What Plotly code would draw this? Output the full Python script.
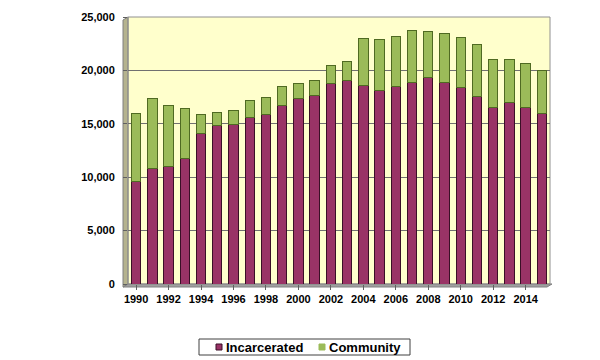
import plotly.graph_objects as go

years = list(range(1990, 2016))
incarcerated = [9600, 10800, 11000, 11750, 14100, 14850, 14950, 15600, 15850, 16750,
                17400, 17650, 18800, 19100, 18550, 18150, 18500, 18850, 19350, 18850,
                18400, 17600, 16550, 16950, 16550, 16000]
total = [16000, 17400, 16700, 16450, 15850, 16100, 16200, 17200, 17500, 18450,
         18800, 19100, 20500, 20850, 22950, 22900, 23200, 23750, 23650, 23450,
         23100, 22450, 21050, 21050, 20650, 19950]
community = [t - i for t, i in zip(total, incarcerated)]
tick_years = list(range(1990, 2016, 2))
series_names = ["Incarcerated", "Community"]
series_colors = ["#993366", "#9BBB59"]

OFF = 8  # page body margin
W, H = 600 - OFF, 360 - OFF
L, R, T, B = 128 - OFF, 50, 17 - OFF, 76
pw, ph = W - L - R, H - T - B

def px(x):
    return (x - OFF - L) / pw

def py(y):
    return (T + ph - (y - OFF)) / ph

fig = go.Figure()
fig.add_trace(go.Bar(x=years, y=incarcerated, name=series_names[0],
                     marker=dict(color=series_colors[0], line=dict(color="#3a0f26", width=1))))
fig.add_trace(go.Bar(x=years, y=community, name=series_names[1],
                     marker=dict(color=series_colors[1], line=dict(color="#4f6a22", width=1))))

shapes = [
    # left wall
    dict(type="path", xref="paper", yref="paper",
         path=f"M {px(123)} {py(287)} L {px(128)} {py(284)} L {px(128)} {py(17)} L {px(123)} {py(20)} Z",
         fillcolor="#B5B38E", line=dict(color="#808080", width=1), layer="below"),
    # floor
    dict(type="path", xref="paper", yref="paper",
         path=f"M {px(123)} {py(287)} L {px(547)} {py(287)} L {px(552)} {py(284)} L {px(128)} {py(284)} Z",
         fillcolor="#A0A0A0", line=dict(color="#808080", width=1), layer="below"),
    # back border
    dict(type="rect", xref="paper", yref="paper", x0=0, x1=1, y0=0, y1=1,
         line=dict(color="#909090", width=1), layer="below"),
    # legend box
    dict(type="rect", xref="paper", yref="paper", x0=px(199), x1=px(410), y0=py(355), y1=py(339),
         line=dict(color="#404040", width=1), fillcolor="white"),
    # legend swatches
    dict(type="rect", xref="paper", yref="paper", x0=px(216), x1=px(222), y0=py(350), y1=py(344),
         line=dict(color="#3a0f26", width=1), fillcolor=series_colors[0]),
    dict(type="rect", xref="paper", yref="paper", x0=px(319), x1=px(325), y0=py(350), y1=py(344),
         line=dict(color=series_colors[1], width=1), fillcolor=series_colors[1]),
]

annotations = [
    dict(xref="paper", yref="paper", x=px(224), y=py(347), text=series_names[0],
         showarrow=False, xanchor="left", yanchor="middle",
         font=dict(family="Liberation Sans, Arial", size=13, weight="bold", color="black")),
    dict(xref="paper", yref="paper", x=px(327), y=py(347), text=series_names[1],
         showarrow=False, xanchor="left", yanchor="middle",
         font=dict(family="Liberation Sans, Arial", size=13, weight="bold", color="black")),
]

fig.update_layout(
    width=W, height=H,
    margin=dict(l=L, r=R, t=T, b=B, autoexpand=False),
    barmode="stack", bargap=0.42,
    plot_bgcolor="#FFFFCC", paper_bgcolor="white",
    font=dict(family="Liberation Sans, Arial", size=11, color="black"),
    shapes=shapes, annotations=annotations,
    showlegend=False,
    xaxis=dict(range=[1989.5, 2015.5], tickvals=tick_years,
               ticktext=[str(y) for y in tick_years],
               tickfont=dict(family="Liberation Sans, Arial", size=11, weight="bold"),
               ticks="outside", ticklen=5, tickcolor="#606060",
               showline=False, showgrid=False, zeroline=False, automargin=False),
    yaxis=dict(range=[0, 25000], dtick=5000, tickformat=",",
               tickfont=dict(family="Liberation Sans, Arial", size=11, weight="bold"),
               ticks="outside", ticklen=4, tickcolor="#606060",
               ticklabelstandoff=6,
               showgrid=True, gridcolor="#707070", gridwidth=1,
               showline=False, zeroline=False, automargin=False),
)

fig.write_html("out.html")
